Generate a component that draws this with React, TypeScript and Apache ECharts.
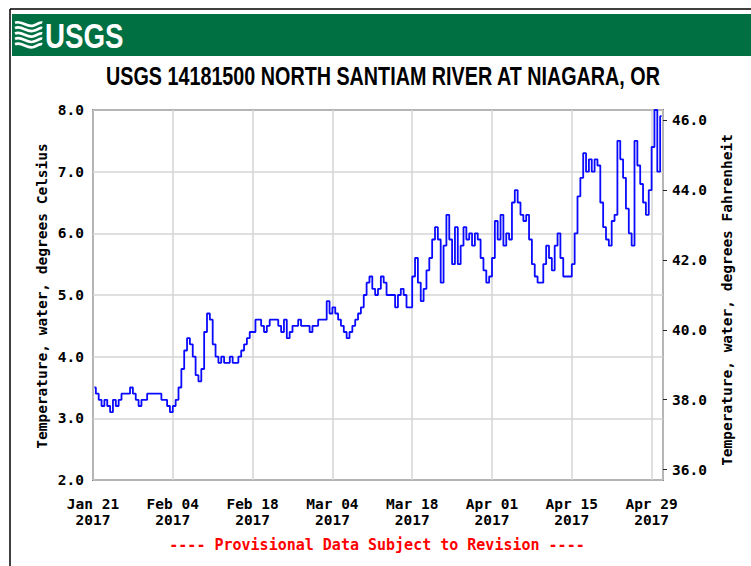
import React, { useEffect, useRef } from "react";
import * as echarts from "echarts";

// ---- data ----
const seriesStart = "2017-01-21";
const stepHours = 12;
// Water temperature, degrees Celsius, one reading every 12 hours from Jan 21 2017
const tempC = [
  3.5, 3.4, 3.3, 3.2, 3.3, 3.2, 3.1, 3.3, 3.2, 3.3,
  3.4, 3.4, 3.4, 3.5, 3.4, 3.3, 3.2, 3.3, 3.3, 3.4,
  3.4, 3.4, 3.4, 3.4, 3.3, 3.3, 3.2, 3.1, 3.2, 3.3,
  3.5, 3.8, 4.1, 4.3, 4.2, 4.0, 3.7, 3.6, 3.8, 4.4,
  4.7, 4.6, 4.2, 4.0, 3.9, 4.0, 3.9, 3.9, 4.0, 3.9,
  3.9, 4.0, 4.1, 4.2, 4.3, 4.4, 4.4, 4.6, 4.6, 4.5,
  4.4, 4.5, 4.6, 4.6, 4.6, 4.5, 4.4, 4.6, 4.3, 4.4,
  4.5, 4.5, 4.6, 4.5, 4.5, 4.5, 4.4, 4.5, 4.5, 4.6,
  4.6, 4.6, 4.9, 4.7, 4.8, 4.7, 4.6, 4.5, 4.4, 4.3,
  4.4, 4.5, 4.6, 4.7, 4.8, 5.0, 5.2, 5.3, 5.1, 5.0,
  5.1, 5.3, 5.2, 5.0, 5.0, 5.0, 4.8, 5.0, 5.1, 5.0,
  4.8, 4.8, 5.3, 5.6, 5.2, 4.9, 5.1, 5.4, 5.6, 5.9,
  6.1, 5.9, 5.2, 5.8, 6.3, 5.9, 5.5, 6.1, 5.5, 5.8,
  6.1, 5.9, 6.0, 5.8, 6.0, 5.9, 5.6, 5.4, 5.2, 5.3,
  5.6, 6.2, 5.9, 6.3, 5.8, 6.0, 5.9, 6.5, 6.7, 6.5,
  6.3, 6.2, 6.3, 5.9, 5.5, 5.3, 5.2, 5.2, 5.5, 5.8,
  5.6, 5.4, 5.8, 6.0, 5.6, 5.3, 5.3, 5.3, 5.5, 6.0,
  6.6, 6.9, 7.3, 7.0, 7.2, 7.0, 7.2, 7.1, 6.5, 6.1,
  5.9, 5.8, 6.2, 6.3, 7.5, 7.2, 6.9, 6.4, 6.0, 5.8,
  7.5, 7.1, 6.8, 6.5, 6.3, 6.7, 7.4, 8.0, 7.0, 7.9,
];
const xTickLabels = [
  "Jan 21\n2017", "Feb 04\n2017", "Feb 18\n2017", "Mar 04\n2017",
  "Mar 18\n2017", "Apr 01\n2017", "Apr 15\n2017", "Apr 29\n2017",
];
const tickDays = 14;
const totalDays = 100;
const celsiusRange = [2, 8];
// right-hand axis extent as drawn in the picture (degrees Fahrenheit)
const fahrenheitRange = [35.7, 46.3];
const fahrenheitTicks = [36, 38, 40, 42, 44, 46];

const titleText = "USGS 14181500 NORTH SANTIAM RIVER AT NIAGARA, OR";
const leftAxisTitle = "Temperature, water, degrees Celsius";
const rightAxisTitle = "Temperature, water, degrees Fahrenheit";
const footerText = "---- Provisional Data Subject to Revision ----";

const MONO = "'DejaVu Sans Mono', 'Liberation Mono', monospace";
const SANS = "'Liberation Sans', Arial, sans-serif";

let logoRegistered = false;
function registerLogo() {
  if (logoRegistered) return;
  const d =
    "M0 3 C8 0 14 9 22 6 S30 2 32 3 " +
    "M0 9 C8 5 14 15 22 12 S30 8 32 9 " +
    "M0 15 C8 11 14 21 22 18 S30 14 32 15 " +
    "M0 21 C8 17 14 27 22 24 S30 20 32 21 " +
    "M0 27 C8 23 14 33 22 30 S30 26 32 27";
  echarts.graphic.registerShape("logo", echarts.graphic.extendPath(d, {}) as any);
  logoRegistered = true;
}

export default function App() {
  const ref = useRef<HTMLDivElement>(null);
  useEffect(() => {
    document.body.style.margin = "0";
    registerLogo();
    const chart = echarts.init(ref.current!, undefined, { renderer: "svg" });
    const data = tempC.map((v, i) => [i * (stepHours / 24) + stepHours / 48, v]);
    const monoLabel = { fontFamily: MONO, fontWeight: "bold" as const, fontSize: 14.5, color: "#000" };

    chart.setOption({
      animation: false,
      backgroundColor: "#fff",
      grid: {
        left: 93,
        right: 88,
        top: 110,
        bottom: 86,
        show: true,
        borderColor: "#222",
        borderWidth: 1.5,
        backgroundColor: "transparent",
      },
      xAxis: {
        type: "value",
        min: 0,
        max: totalDays,
        interval: tickDays,
        axisLine: { show: false },
        axisTick: { show: false },
        splitLine: { show: true, lineStyle: { color: "#d4d4d4", width: 1.5 } },
        axisLabel: {
          ...monoLabel,
          margin: 16,
          lineHeight: 16,
          showMaxLabel: false,
          formatter: (v: number) => {
            const idx = Math.round(v / tickDays);
            return v % tickDays === 0 && xTickLabels[idx] ? xTickLabels[idx] : "";
          },
        },
      },
      yAxis: [
        {
          type: "value",
          position: "left",
          min: celsiusRange[0],
          max: celsiusRange[1],
          interval: 1,
          axisLine: { show: false },
          axisTick: { show: false },
          splitLine: { show: true, lineStyle: { color: "#d4d4d4", width: 1.5 } },
          axisLabel: { ...monoLabel, margin: 9, formatter: (v: number) => v.toFixed(1) },
        },
        {
          type: "value",
          position: "right",
          min: fahrenheitRange[0],
          max: fahrenheitRange[1],
          axisLine: { show: false },
          splitLine: { show: false },
          axisTick: {
            show: true,
            length: 4,
            lineStyle: { color: "#222" },
            customValues: fahrenheitTicks,
          },
          axisLabel: {
            ...monoLabel,
            margin: 9,
            customValues: fahrenheitTicks,
            formatter: (v: number) => v.toFixed(1),
          },
        },
      ],
      series: [
        {
          type: "line",
          yAxisIndex: 0,
          data,
          step: "middle",
          showSymbol: false,
          lineStyle: { color: "#0a0aff", width: 1.8 },
          itemStyle: { color: "#0a0aff" },
        },
      ],
      graphic: [
        { type: "line", shape: { x1: 10, y1: 9, x2: 751, y2: 9 }, style: { stroke: "#000", lineWidth: 1.5 } },
        { type: "line", shape: { x1: 10, y1: 9, x2: 10, y2: 566 }, style: { stroke: "#000", lineWidth: 1.5 } },
        { type: "rect", shape: { x: 12, y: 14, width: 739, height: 42 }, style: { fill: "#006f41" } },
        {
          type: "logo",
          x: 15,
          y: 20,
          scaleX: 0.85,
          scaleY: 0.9,
          style: { stroke: "#fff", fill: null, lineWidth: 3 },
        },
        {
          type: "text",
          x: 45,
          y: 36,
          scaleX: 0.77,
          style: {
            text: "USGS",
            fontFamily: SANS,
            fontWeight: "bold",
            fontSize: 36,
            fill: "#fff",
            textAlign: "left",
            textVerticalAlign: "middle",
          },
        },
        {
          type: "text",
          x: 383,
          y: 77,
          scaleX: 0.79,
          style: {
            text: titleText,
            fontFamily: SANS,
            fontWeight: "bold",
            fontSize: 25,
            fill: "#000",
            textAlign: "center",
            textVerticalAlign: "middle",
          },
        },
        {
          type: "text",
          x: 42,
          y: 296,
          rotation: Math.PI / 2,
          style: {
            text: leftAxisTitle,
            ...monoLabel,
            fill: "#000",
            textAlign: "center",
            textVerticalAlign: "middle",
          },
        },
        {
          type: "text",
          x: 727,
          y: 300,
          rotation: Math.PI / 2,
          style: {
            text: rightAxisTitle,
            ...monoLabel,
            fill: "#000",
            textAlign: "center",
            textVerticalAlign: "middle",
          },
        },
        {
          type: "text",
          x: 377,
          y: 545,
          style: {
            text: footerText,
            fontFamily: MONO,
            fontWeight: "bold",
            fontSize: 15,
            fill: "#ff0000",
            textAlign: "center",
            textVerticalAlign: "middle",
          },
        },
      ],
    });
    return () => chart.dispose();
  }, []);
  return <div ref={ref} style={{ width: 751, height: 566 }} />;
}
